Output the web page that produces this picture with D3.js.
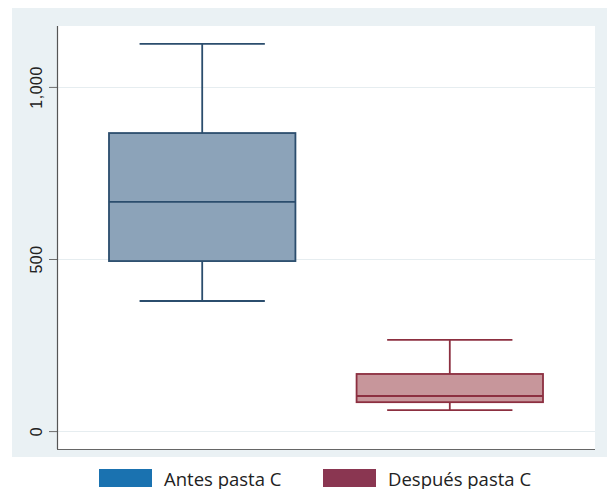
<!DOCTYPE html>
<html>
<head>
<meta charset="utf-8">
<script src="https://cdn.jsdelivr.net/npm/d3@7"></script>
<style>
  html, body { margin: 0; padding: 0; background: #ffffff; }
  svg { display: block; }
</style>
</head>
<body>
<svg id="chart" width="607" height="489"></svg>
<script>
// Group names and five-number summaries (whisker low, Q1, median, Q3, whisker high)
const groups = ["Antes pasta C", "Después pasta C"];
const whiskerLow = [378, 61];
const q1 = [494, 84];
const median = [666, 102];
const q3 = [866, 166];
const whiskerHigh = [1125, 265];
const yTicks = [0, 500, 1000];

const boxFill = ["#8ca3b9", "#c7969b"];
const boxStroke = ["#2b4d6d", "#8c2f40"];
const legendColor = ["#1a72b0", "#8a3651"];

const svg = d3.select("#chart");
const W = 607;

// Outer panel and plot region
svg.append("rect").attr("x", 12).attr("y", 8).attr("width", W - 12).attr("height", 449)
  .attr("fill", "#eaf1f4");
const plot = { left: 57, right: 595, top: 26, bottom: 449 };
svg.append("rect").attr("x", plot.left).attr("y", plot.top)
  .attr("width", plot.right - plot.left).attr("height", plot.bottom - plot.top)
  .attr("fill", "#ffffff");

const y = d3.scaleLinear().domain([-52, 1177]).range([plot.bottom, plot.top]);
const x = d3.scaleBand().domain(groups).range([plot.left, plot.right])
  .paddingInner(0.247).paddingOuter(0.21);

// Horizontal gridlines
svg.append("g").selectAll("line").data(yTicks).join("line")
  .attr("x1", plot.left).attr("x2", plot.right)
  .attr("y1", d => Math.round(y(d)) + 0.5).attr("y2", d => Math.round(y(d)) + 0.5)
  .attr("stroke", "#e6edf0").attr("stroke-width", 1.2);

// Y axis
const yAxis = d3.axisLeft(y).tickValues(yTicks).tickSize(8).tickPadding(6)
  .tickFormat(d3.format(",")).tickSizeOuter(0);
const gy = svg.append("g").attr("transform", `translate(${plot.left},0)`).call(yAxis);
gy.select(".domain").remove();
gy.selectAll(".tick line").attr("stroke", "#6d6d6d");
gy.selectAll(".tick text")
  .attr("transform", "rotate(-90)")
  .attr("x", 0).attr("y", -21)
  .attr("dy", "0.35em")
  .attr("text-anchor", "middle")
  .attr("font-family", "'Liberation Sans', Arial, sans-serif")
  .attr("font-size", 16)
  .attr("letter-spacing", 0.5)
  .attr("fill", "#222");
svg.append("line").attr("x1", plot.left + 0.5).attr("x2", plot.left + 0.5)
  .attr("y1", plot.top).attr("y2", plot.bottom).attr("stroke", "#555").attr("stroke-width", 1.2);
svg.append("line").attr("x1", plot.left).attr("x2", plot.right)
  .attr("y1", plot.bottom + 0.5).attr("y2", plot.bottom + 0.5).attr("stroke", "#666").attr("stroke-width", 1.2);

// Boxes
const bw = x.bandwidth();
groups.forEach((g, i) => {
  const cx = x(g) + bw / 2;
  const gg = svg.append("g");
  const st = boxStroke[i];
  const capHalf = bw * 0.336;
  // whiskers
  gg.append("line").attr("x1", cx).attr("x2", cx).attr("y1", y(q3[i])).attr("y2", y(whiskerHigh[i]))
    .attr("stroke", st).attr("stroke-width", 1.8);
  gg.append("line").attr("x1", cx).attr("x2", cx).attr("y1", y(q1[i])).attr("y2", y(whiskerLow[i]))
    .attr("stroke", st).attr("stroke-width", 1.8);
  gg.append("line").attr("x1", cx - capHalf).attr("x2", cx + capHalf)
    .attr("y1", y(whiskerHigh[i])).attr("y2", y(whiskerHigh[i])).attr("stroke", st).attr("stroke-width", 1.8);
  gg.append("line").attr("x1", cx - capHalf).attr("x2", cx + capHalf)
    .attr("y1", y(whiskerLow[i])).attr("y2", y(whiskerLow[i])).attr("stroke", st).attr("stroke-width", 1.8);
  // box
  gg.append("rect").attr("x", x(g)).attr("width", bw)
    .attr("y", y(q3[i])).attr("height", y(q1[i]) - y(q3[i]))
    .attr("fill", boxFill[i]).attr("stroke", st).attr("stroke-width", 1.8);
  gg.append("line").attr("x1", x(g)).attr("x2", x(g) + bw)
    .attr("y1", y(median[i])).attr("y2", y(median[i])).attr("stroke", st).attr("stroke-width", 1.8);
});

// Legend
const legendX = [99, 323];
groups.forEach((g, i) => {
  svg.append("rect").attr("x", legendX[i]).attr("y", 469).attr("width", 53).attr("height", 18)
    .attr("fill", legendColor[i]);
  svg.append("text").attr("x", legendX[i] + 65).attr("y", 485.5)
    .attr("font-family", "'Open Sans', sans-serif").attr("font-size", 18.5)
    .attr("fill", "#222").text(g);
});
</script>
</body>
</html>
